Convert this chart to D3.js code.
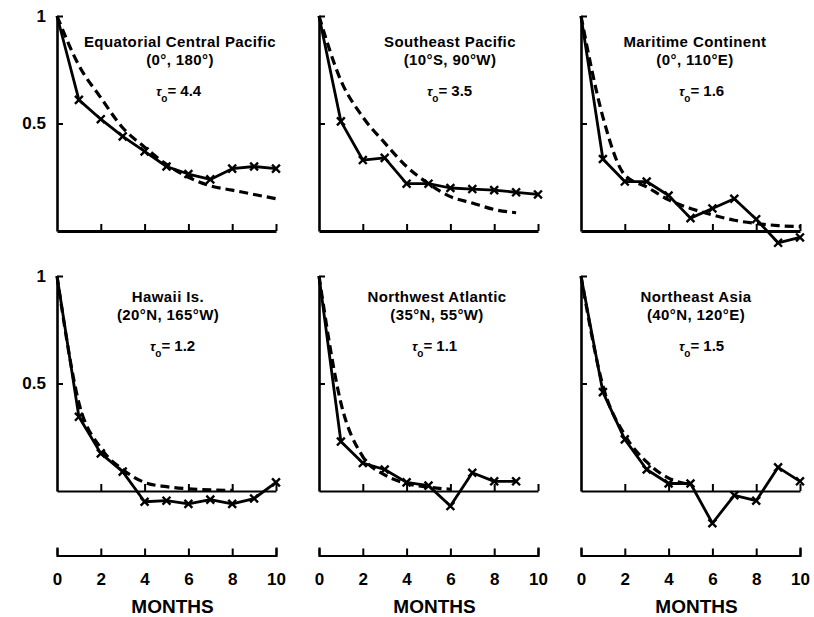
<!DOCTYPE html>
<html>
<head>
<meta charset="utf-8">
<script src="https://cdn.jsdelivr.net/npm/d3@7"></script>
<style>
  html, body { margin: 0; padding: 0; background: #fff; }
  svg { display: block; font-family: "Liberation Sans", Arial, Helvetica, sans-serif; }
</style>
</head>
<body>
<svg id="chart" width="814" height="617"></svg>
<script>
// Lag autocorrelation of monthly anomalies at six sites, with the fitted decay curve.
const months = [0, 1, 2, 3, 4, 5, 6, 7, 8, 9, 10];
const monthTicks = [0, 2, 4, 6, 8, 10];
const corrTicks = [0.5, 1];

const regions = ["Equatorial Central Pacific", "Southeast Pacific", "Maritime Continent",
                 "Hawaii Is.", "Northwest Atlantic", "Northeast Asia"];
const locations = ["(0°, 180°)", "(10°S, 90°W)", "(0°, 110°E)",
                   "(20°N, 165°W)", "(35°N, 55°W)", "(40°N, 120°E)"];
const tau0 = ["4.4", "3.5", "1.6", "1.2", "1.1", "1.5"];

// observed autocorrelation (solid line with crosses), one value per month lag
const observed1 = [1, 0.61, 0.52, 0.44, 0.37, 0.30, 0.265, 0.24, 0.29, 0.30, 0.29];
const observed2 = [1, 0.51, 0.33, 0.34, 0.22, 0.22, 0.20, 0.195, 0.19, 0.18, 0.17];
const observed3 = [1, 0.335, 0.23, 0.23, 0.165, 0.06, 0.105, 0.15, 0.055, -0.055, -0.03];
const observed4 = [1, 0.345, 0.175, 0.09, -0.05, -0.045, -0.06, -0.04, -0.06, -0.035, 0.04];
const observed5 = [1, 0.23, 0.13, 0.10, 0.04, 0.025, -0.07, 0.085, 0.045, 0.045];
const observed6 = [1, 0.46, 0.24, 0.10, 0.035, 0.035, -0.15, -0.02, -0.045, 0.11, 0.045];

// fitted decay (dashed), one value per month lag
const fitted1 = [1, 0.77, 0.62, 0.48, 0.39, 0.31, 0.25, 0.21, 0.19, 0.17, 0.15];
const fitted2 = [1, 0.70, 0.53, 0.41, 0.30, 0.22, 0.16, 0.13, 0.10, 0.085];
const fitted3 = [1, 0.53, 0.26, 0.205, 0.145, 0.105, 0.075, 0.05, 0.035, 0.025, 0.02];
const fitted4 = [1, 0.41, 0.20, 0.10, 0.04, 0.02, 0.01, 0.005, 0.003];
const fitted5 = [1, 0.41, 0.16, 0.075, 0.035, 0.018, 0.008];
const fitted6 = [1, 0.49, 0.26, 0.135, 0.06, 0.03];

const observedSeries = [observed1, observed2, observed3, observed4, observed5, observed6];
const fittedSeries = [fitted1, fitted2, fitted3, fitted4, fitted5, fitted6];

// ---- layout ----
const colLeft = [57, 319, 581];
const panelW = 219;
const rowTop = [16, 276];     // pixel of correlation 1
const rowZero = [231, 491];   // pixel of correlation 0
const titleCX = [180, 450, 695, 168, 437, 696];
const tauCX = [178, 449, 701, 172, 434, 701];
const lowest = -0.3;          // bottom row month axis sits at this level
const FONT = "Liberation Sans, Arial, sans-serif";

const svg = d3.select("#chart");

function styleAxis(g, width) {
  g.selectAll("path.domain").attr("stroke", "#000").attr("stroke-width", width).attr("fill", "none");
  g.selectAll(".tick line").attr("stroke", "#000").attr("stroke-width", 2);
}

for (let p = 0; p < 6; p++) {
  const row = Math.floor(p / 3), col = p % 3;
  const x = d3.scaleLinear().domain([0, 10]).range([colLeft[col], colLeft[col] + panelW]);
  const y = d3.scaleLinear().domain([0, 1]).range([rowZero[row], rowTop[row]]);
  const g = svg.append("g");

  // zero line with upward month ticks
  const zeroAxis = d3.axisBottom(x).tickValues([2, 4, 6, 8, 10]).tickSize(-7)
    .tickSizeOuter(0).tickFormat("");
  g.append("g").attr("transform", `translate(0,${y(0)})`).call(zeroAxis)
    .call(a => styleAxis(a, row === 0 ? 3 : 2.2));

  // correlation axis with inward ticks
  const yAxis = d3.axisLeft(y).tickValues(corrTicks).tickSize(-6).tickSizeOuter(0)
    .tickPadding(11).tickFormat(col === 0 ? (d => d === 1 ? "1" : "0.5") : "");
  g.append("g").attr("transform", `translate(${x(0)},0)`).call(yAxis)
    .call(a => styleAxis(a, 2.6))
    .call(a => a.selectAll("text").attr("fill", "#000").attr("font-size", 17)
      .attr("font-weight", "bold").attr("font-family", FONT));

  // separate month axis under the bottom row
  if (row === 1) {
    const mAxis = d3.axisBottom(x).tickValues(monthTicks).tickSize(-7).tickSizeOuter(-8)
      .tickPadding(17).tickFormat(d3.format("d"));
    g.append("g").attr("transform", `translate(0,${y(lowest)})`).call(mAxis)
      .call(a => styleAxis(a, 2.2))
      .call(a => a.selectAll("text").attr("fill", "#000").attr("font-size", 17)
        .attr("font-weight", "bold").attr("font-family", FONT));
    g.append("text").attr("x", x(5) + 6).attr("y", 613).attr("text-anchor", "middle")
      .attr("font-size", 19).attr("font-weight", "bold").text("MONTHS");
  }

  // fitted curve
  const fit = fittedSeries[p].map((v, i) => [months[i], v]);
  g.append("path").datum(fit)
    .attr("d", d3.line().x(d => x(d[0])).y(d => y(d[1])).curve(d3.curveMonotoneX))
    .attr("fill", "none").attr("stroke", "#000").attr("stroke-width", 3.2)
    .attr("stroke-dasharray", "9,5");

  // observed curve with crosses
  const obs = observedSeries[p].map((v, i) => [months[i], v]);
  g.append("path").datum(obs)
    .attr("d", d3.line().x(d => x(d[0])).y(d => y(d[1])))
    .attr("fill", "none").attr("stroke", "#000").attr("stroke-width", 2.8)
    .attr("stroke-linejoin", "round");
  const cross = d3.symbol().type(d3.symbolX).size(42);
  g.selectAll("path.cross").data(obs.slice(1)).join("path")
    .attr("class", "cross")
    .attr("transform", d => `translate(${x(d[0])},${y(d[1])})`)
    .attr("d", cross).attr("fill", "none").attr("stroke", "#000").attr("stroke-width", 2.4);

  // site labels
  const tBase = row === 0 ? 47 : 302;
  g.append("text").attr("x", titleCX[p]).attr("y", tBase).attr("text-anchor", "middle")
    .attr("font-size", 15).attr("font-weight", "bold").attr("letter-spacing", 0.4).text(regions[p]);
  g.append("text").attr("x", titleCX[p]).attr("y", tBase + 18).attr("text-anchor", "middle")
    .attr("font-size", 15).attr("font-weight", "bold").attr("letter-spacing", 0.4).text(locations[p]);

  // decay time label: tau with subscript o
  const tau = g.append("text").attr("x", tauCX[p] - 22).attr("y", tBase + 49)
    .attr("font-size", 15).attr("font-weight", "bold");
  tau.append("tspan").attr("font-style", "italic").attr("font-size", 13).text("τ");
  tau.append("tspan").attr("font-size", 10).attr("dy", 6).text("o");
  tau.append("tspan").attr("dy", -6).text("= " + tau0[p]);
}
</script>
</body>
</html>
